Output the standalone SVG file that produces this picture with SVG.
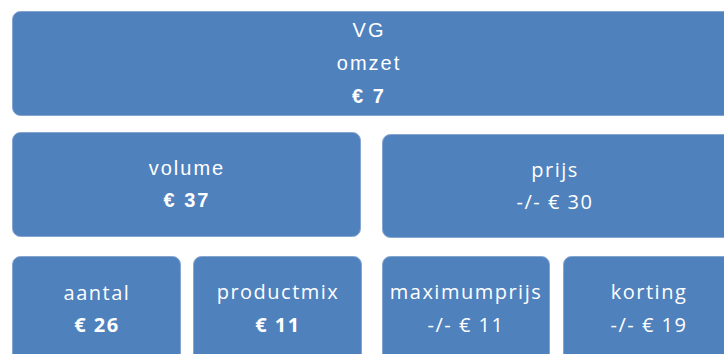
<svg xmlns="http://www.w3.org/2000/svg" width="724" height="354" viewBox="0 0 724 354">
  <style>
    .box { fill: #4F81BD; stroke: #86A6D2; stroke-width: 1; }
    .t { fill: #ffffff; font-size: 20px; text-anchor: middle; }
    .a { font-family: "Liberation Sans", Arial, sans-serif; letter-spacing: 2px; }
    .s { font-family: "Open Sans", "Noto Sans", sans-serif; letter-spacing: 1.5px; }
    .b { font-weight: bold; }
  </style>
  <rect width="724" height="354" fill="#ffffff"/>

  <g id="omzet">
    <rect class="box" x="12.5" y="11.5" width="730" height="104" rx="8"/>
    <text class="t a" x="369" y="37">VG</text>
    <text class="t a" x="369" y="70">omzet</text>
    <text class="t a b" x="369" y="103">€ 7</text>
  </g>

  <g id="volume">
    <rect class="box" x="12.5" y="132.5" width="348" height="104" rx="8"/>
    <text class="t a" x="187" y="175">volume</text>
    <text class="t a b" x="187" y="207">€ 37</text>
  </g>

  <g id="prijs">
    <rect class="box" x="382.5" y="134.5" width="360" height="103" rx="8"/>
    <text class="t s" x="555" y="177">prijs</text>
    <text class="t s" x="555" y="209">-/- € 30</text>
  </g>

  <g id="aantal">
    <rect class="box" x="12.5" y="256.5" width="168" height="120" rx="8"/>
    <text class="t s" x="97" y="300">aantal</text>
    <text class="t s b" x="97" y="332">€ 26</text>
  </g>

  <g id="productmix">
    <rect class="box" x="193.5" y="256.5" width="168" height="120" rx="8"/>
    <text class="t s" x="278" y="299">productmix</text>
    <text class="t s b" x="278" y="332">€ 11</text>
  </g>

  <g id="maximumprijs">
    <rect class="box" x="382.5" y="256.5" width="167" height="120" rx="8"/>
    <text class="t s" x="466" y="299">maximumprijs</text>
    <text class="t s" x="466" y="332">-/- € 11</text>
  </g>

  <g id="korting">
    <rect class="box" x="563.5" y="256.5" width="168" height="120" rx="8"/>
    <text class="t s" x="649" y="299">korting</text>
    <text class="t s" x="649" y="332">-/- € 19</text>
  </g>

  <g id="connectors"/>
</svg>
